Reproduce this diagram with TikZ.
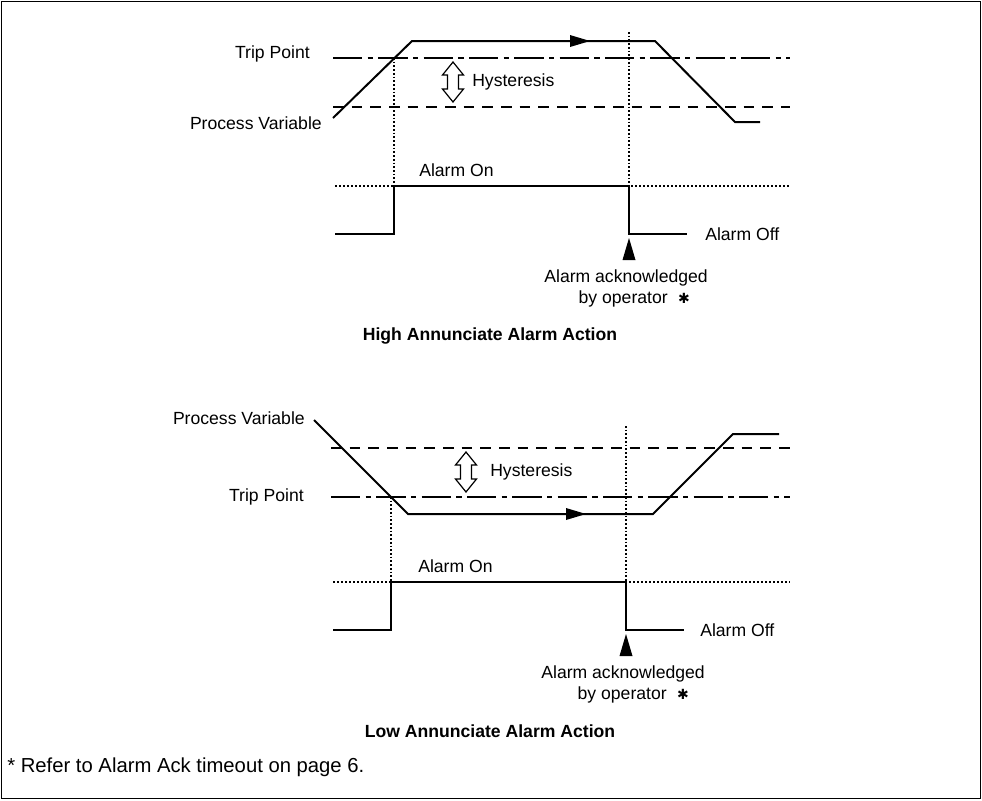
\documentclass[tikz,border=0pt]{standalone}
\usepackage{fontspec}
\setmainfont{Liberation Sans}
\newfontfamily\dejavu{DejaVu Sans}
\begin{document}
\begin{tikzpicture}[x=0.75pt,y=-0.75pt,
  pv/.style={line width=1.5pt, line join=miter},
  sig/.style={line width=1.5pt, line join=miter},
  tripline/.style={line width=1.4pt, dash pattern=on 22pt off 4pt on 4pt off 4pt},
  hysline/.style={line width=1.1pt, dash pattern=on 8pt off 6pt},
  dotv/.style={line width=0.8pt, dash pattern=on 1.3pt off 1.5pt},
  doth/.style={line width=0.9pt, dash pattern=on 1.5pt off 1.5pt},
  lbl/.style={inner sep=0pt, font=\fontsize{13.2}{16}\selectfont},
  fnote/.style={inner sep=0pt, font=\fontsize{15.2}{18}\selectfont},
  ttl/.style={inner sep=0pt, font=\fontsize{13.2}{16}\selectfont\bfseries},
  hyarrow/.style={line width=0.9pt, fill=white, line join=miter},
  tri/.style={fill=black, draw=none},
  starmk/.style={inner sep=0pt, font=\dejavu\fontsize{10.5}{12}\selectfont}]
\useasboundingbox (0,0) rectangle (982,800);
\draw[line width=1pt] (1.5,1.5) rectangle (980.5,798.5);

% ================= TOP: High annunciate =================
\draw[tripline] (333,58) -- (790,58);
\draw[hysline] (333,107) -- (790,107);
\draw[dotv] (394,58) -- (394,186);
\draw[dotv] (629,32) -- (629,186);
\coordinate (a0) at (333,118);
\coordinate (a1) at (412,41);
\coordinate (a2) at (655,41);
\coordinate (a3) at (735,122);
\coordinate (a4) at (760,122);
\draw[pv] (a0) -- (a1) -- (a2) -- (a3) -- (a4);
\fill (570,35) -- (590,41) -- (570,47) -- cycle;
% hysteresis arrow
\draw[hyarrow] (453,62) -- (463.5,75) -- (458.5,75) -- (458.5,89) -- (463.5,89)
  -- (453,102) -- (442.5,89) -- (447.5,89) -- (447.5,75) -- (442.5,75) -- cycle;
\node[lbl, anchor=east] (tp1) at (310,54) {Trip Point};
\node[lbl, anchor=east] (pv1) at (322,123) {Process Variable};
\node[lbl, anchor=west] (hy1) at (472,82) {Hysteresis};
% alarm signal
\draw[doth] (335,186) -- (790,186);
\coordinate (s0) at (335,234);
\coordinate (s1) at (394,234);
\coordinate (s2) at (394,186);
\coordinate (s3) at (629,186);
\coordinate (s4) at (629,234);
\coordinate (s5) at (687,234);
\draw[sig] (s0) -- (s1) -- (s2) -- (s3) -- (s4) -- (s5);
\fill[tri] (629,238) -- (635.5,260) -- (622.5,260) -- cycle;
\node[lbl, anchor=west] (on1) at (419,170) {Alarm On};
\node[lbl, anchor=west] (off1) at (705,234) {Alarm Off};
\node[lbl, anchor=east] (ack1) at (708,278) {Alarm acknowledged};
\node[lbl, anchor=east] (by1) at (668,299) {by operator};
\node[starmk] (st1) at (684,298) {✱};
\node[ttl] (t1) at (490,336) {High Annunciate Alarm Action};

% ================= BOTTOM: Low annunciate =================
\draw[hysline] (331,448) -- (790,448);
\draw[tripline] (331,497) -- (790,497);
\draw[dotv] (391,497) -- (391,582);
\draw[dotv] (626,426) -- (626,582);
\coordinate (b0) at (314,420);
\coordinate (b1) at (408,514);
\coordinate (b2) at (653,514);
\coordinate (b3) at (733,434);
\coordinate (b4) at (779,434);
\draw[pv] (b0) -- (b1) -- (b2) -- (b3) -- (b4);
\fill (566,508) -- (586,514) -- (566,520) -- cycle;
\draw[hyarrow] (466,452) -- (476.5,465) -- (471.5,465) -- (471.5,479) -- (476.5,479)
  -- (466,492) -- (455.5,479) -- (460.5,479) -- (460.5,465) -- (455.5,465) -- cycle;
\node[lbl, anchor=east] (pv2) at (305,418) {Process Variable};
\node[lbl, anchor=east] (tp2) at (304,497) {Trip Point};
\node[lbl, anchor=west] (hy2) at (490,472) {Hysteresis};
\draw[doth] (333,582) -- (790,582);
\coordinate (r0) at (333,630);
\coordinate (r1) at (391,630);
\coordinate (r2) at (391,582);
\coordinate (r3) at (626,582);
\coordinate (r4) at (626,630);
\coordinate (r5) at (684,630);
\draw[sig] (r0) -- (r1) -- (r2) -- (r3) -- (r4) -- (r5);
\fill[tri] (626,634) -- (632.5,656) -- (619.5,656) -- cycle;
\node[lbl, anchor=west] (on2) at (418,566) {Alarm On};
\node[lbl, anchor=west] (off2) at (700,630) {Alarm Off};
\node[lbl, anchor=east] (ack2) at (705,674) {Alarm acknowledged};
\node[lbl, anchor=east] (by2) at (667,695) {by operator};
\node[starmk] (st2) at (683,694) {✱};
\node[ttl] (t2) at (490,731) {Low Annunciate Alarm Action};

\node[fnote, anchor=west] (fn) at (7,767) {* Refer to Alarm Ack timeout on page 6.};
\end{tikzpicture}
\end{document}
